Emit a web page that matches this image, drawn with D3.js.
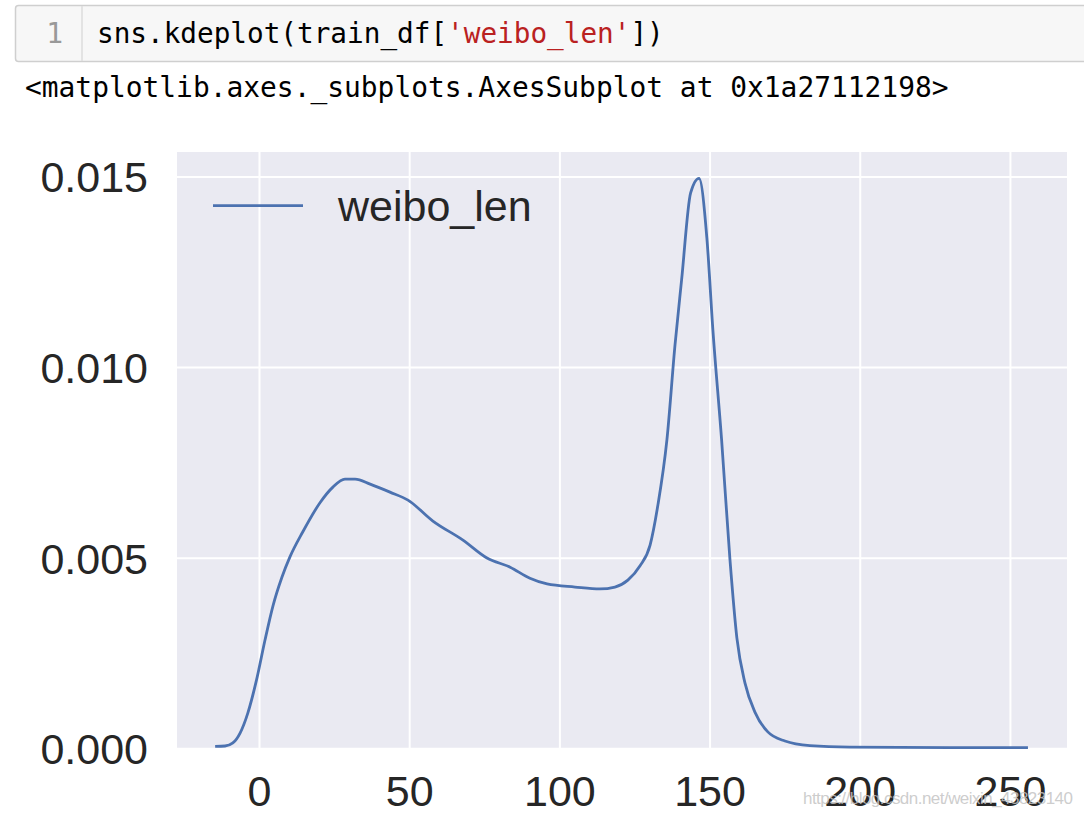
<!DOCTYPE html>
<html>
<head>
<meta charset="utf-8">
<script src="https://cdn.jsdelivr.net/npm/d3@7"></script>
<style>
  body { margin: 0; background: #fff; }
  svg { display: block; }
</style>
</head>
<body>
<svg id="chart"></svg>
<script>
var width = 1084,
	height = 818;

// kde of weibo_len
var lengths = [-14.6, -11.3, -8.7, -6.3, -3.7, -0.8, 2.0, 4.7, 7.6, 10.3, 14.6, 20.3, 24.6, 28.6, 32.0, 37.0,
	43.6, 49.6, 57.9, 67.9, 75.9, 83.6, 90.2, 95.9, 105.2, 113.5, 118.5, 122.8, 126.8, 130.2, 132.8,
	135.8, 138.5, 140.7, 143.7, 146.5, 149.1, 151.1, 154.0, 156.8, 159.1, 161.8, 165.1, 169.4, 175.1,
	183.4, 196.7, 230.0, 256.0];
var density = [0.00005, 0.00006, 0.00014, 0.0004, 0.00093, 0.0018, 0.00284, 0.00375, 0.00448, 0.00502, 0.00568,
	0.00644, 0.00685, 0.00706, 0.00706, 0.00693, 0.00672, 0.00651, 0.00596, 0.00546, 0.00499, 0.00475,
	0.00446, 0.00431, 0.00423, 0.00418, 0.00423, 0.00441, 0.00478, 0.00533, 0.00638, 0.00809, 0.01058,
	0.01229, 0.01457, 0.01495, 0.01339, 0.01098, 0.0081, 0.00494, 0.00289, 0.00171, 0.00095, 0.00043,
	0.00019, 0.00007, 0.00003, 0.00002, 0.00002];
var xTicks = [0, 50, 100, 150, 200, 250];
var yTicks = [0, 0.005, 0.010, 0.015];

var plot = { left: 177, right: 1067, top: 152, bottom: 748.3 };

var svg = d3.select("#chart").attr("width", width).attr("height", height);

// notebook cell
svg.append("rect").attr("x", 15.5).attr("y", 5.5).attr("width", 1090).attr("height", 56).attr("rx", 3)
	.attr("style", "fill:#f7f7f7;stroke:#cfcfcf;stroke-width:1.5");
svg.append("line").attr("x1", 82).attr("x2", 82).attr("y1", 6).attr("y2", 61)
	.attr("style", "stroke:#dddddd;stroke-width:1.5");
svg.append("text").attr("x", 63).attr("y", 43).attr("text-anchor", "end")
	.attr("style", "font-family:'DejaVu Sans Mono';font-size:28px;fill:#999999").text("1");
var code = svg.append("text").attr("x", 97).attr("y", 43)
	.attr("style", "font-family:'DejaVu Sans Mono';font-size:27.7px;fill:#000000");
code.append("tspan").text("sns.kdeplot(train_df[");
code.append("tspan").attr("fill", "#ba2121").text("'weibo_len'");
code.append("tspan").text("])");
svg.append("text").attr("x", 25).attr("y", 97)
	.attr("style", "font-family:'DejaVu Sans Mono';font-size:27.9px;fill:#000000")
	.text("<matplotlib.axes._subplots.AxesSubplot at 0x1a27112198>");

// axes
var x = d3.scaleLinear().domain([-27.3, 269.0]).range([plot.left, plot.right]);
var y = d3.scaleLinear().domain([0, 0.01564]).range([plot.bottom, plot.top]);

svg.append("rect").attr("x", plot.left).attr("y", plot.top)
	.attr("width", plot.right - plot.left).attr("height", plot.bottom - plot.top)
	.attr("fill", "#eaeaf2");

var tickFont = "font-family:'Liberation Sans',Arial,sans-serif;font-size:43px;fill:#262626";

var gx = svg.append("g").attr("transform", "translate(0," + plot.bottom + ")")
	.call(d3.axisBottom(x).tickValues(xTicks).tickSize(-(plot.bottom - plot.top)).tickFormat(d3.format("d")));
var gy = svg.append("g").attr("transform", "translate(" + plot.left + ",0)")
	.call(d3.axisLeft(y).tickValues(yTicks).tickSize(-(plot.right - plot.left)).tickFormat(d3.format(".3f")));

[gx, gy].forEach(function(g){
	g.select(".domain").remove();
	g.selectAll(".tick line").attr("stroke", "#ffffff").attr("stroke-width", 2);
	g.selectAll(".tick text").attr("style", tickFont);
});
gx.selectAll(".tick text").attr("y", 58).attr("dy", null);
gy.selectAll(".tick text").attr("x", -29).attr("dy", "0.36em");

// density line
var pts = lengths.map(function(v, i){ return [v, density[i]]; });
svg.append("path").datum(pts)
	.attr("d", d3.line().x(function(d){ return x(d[0]); }).y(function(d){ return y(d[1]); }).curve(d3.curveMonotoneX))
	.attr("style", "fill:none;stroke:#4c72b0;stroke-width:2.8;stroke-linejoin:round");

// legend
svg.append("line").attr("x1", 213).attr("x2", 303).attr("y1", 205.7).attr("y2", 205.7)
	.attr("style", "stroke:#4c72b0;stroke-width:2.8");
svg.append("text").attr("x", 338).attr("y", 221).attr("style", tickFont).text("weibo_len");

// watermark (sits over the tick labels, as in the screenshot)
svg.append("text").attr("x", 803).attr("y", 804).attr("textLength", 270)
	.attr("style", "font-family:'Liberation Sans',Arial,sans-serif;font-size:17px;fill:#c4c4c4;fill-opacity:0.85")
	.text("https://blog.csdn.net/weixin_43823140");
</script>
</body>
</html>
